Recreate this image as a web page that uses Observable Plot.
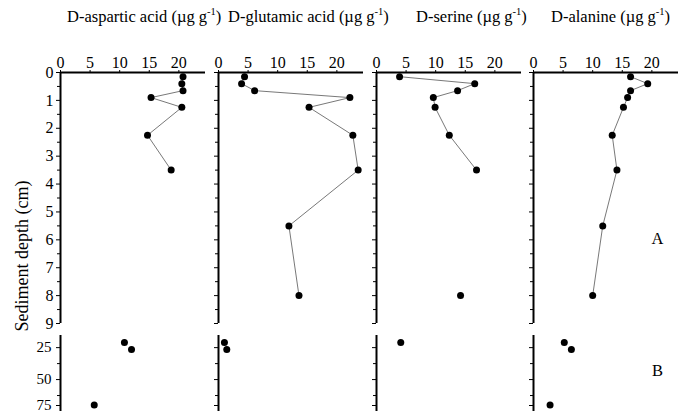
<!DOCTYPE html>
<html><head><meta charset="utf-8">
<script src="https://cdn.jsdelivr.net/npm/d3@7"></script>
<script src="https://cdn.jsdelivr.net/npm/@observablehq/plot@0.6"></script>
<style>
body{margin:0;background:#fff;}
#chart{position:relative;width:678px;height:414px;overflow:hidden;font-family:"Liberation Serif","Times New Roman",serif;color:#000;}
.t{position:absolute;top:9px;font-size:16.5px;line-height:1;white-space:nowrap;}
.t sup{font-size:10.5px;vertical-align:top;position:relative;top:-2px;}
.p{position:absolute;top:0;}
.p svg text{font-family:"Liberation Serif","Times New Roman",serif;}
</style></head>
<body><div id="chart"></div>
<script>
// sampled depths (cm), upper section A and deep section B
const depths = [0.15, 0.4, 0.65, 0.9, 1.25, 2.25, 3.5, 5.5, 8];
const deepDepths = [21, 26.5, 70];
// concentrations (µg g-1)
const aspartic     = [20.7, 20.5, 20.7, 15.3, 20.5, 14.7, 18.7, null, null];
const asparticDeep = [10.8, 12.0, 5.7];
const glutamic     = [4.4, 3.9, 6.1, 22.2, 15.3, 22.7, 23.6, 11.9, 13.6];
const glutamicDeep = [1.0, 1.4, null];
const serine       = [3.9, 16.6, 13.7, 9.6, 9.9, 12.3, 16.9, null, 14.2];
const serineDeep   = [4.1, null, null];
const alanine      = [16.4, 19.3, 16.4, 15.9, 15.2, 13.3, 14.1, 11.7, 10.0];
const alanineDeep  = [5.2, 6.4, 2.8];
const names = ["D-aspartic acid", "D-glutamic acid", "D-serine", "D-alanine"];
const unit = "(\u00b5g g<sup>-1</sup>)";
const xTicks = [0, 5, 10, 15, 20];
const depthTicks = [0, 1, 2, 3, 4, 5, 6, 7, 8, 9];
const depthMinor = [0.5, 1.5, 2.5, 3.5, 4.5, 5.5, 6.5, 7.5, 8.5];
const deepTicks = [25, 50];
const deepEndTick = [75];
const deepMinor = [37.5, 62.5];
const yTitle = "Sediment depth (cm)";
const sectionLabels = ["A", "B"];

const series = [[aspartic, asparticDeep], [glutamic, glutamicDeep], [serine, serineDeep], [alanine, alanineDeep]];
const layout = [
  {left: 0, width: 205, ml: 60},
  {left: 205, width: 158, ml: 13},
  {left: 363, width: 158, ml: 13},
  {left: 520, width: 158, ml: 13}
];
const titleLeft = [67, 228, 416, 551];
const chart = document.getElementById("chart");
const font = '"Liberation Serif", "Times New Roman", serif';

series.forEach(([vals, deep], i) => {
  const L = layout[i];
  const upper = depths.map((d, j) => ({d, v: vals[j]}));
  const lower = deepDepths.map((d, j) => ({d, v: deep[j]})).filter(r => r.v != null);
  const first = i === 0;
  const hide = first ? {} : {fill: "none"};
  const marks = [
    Plot.ruleY([0], {x1: 0, x2: 24.5, strokeWidth: 2}),
    Plot.ruleX([0], {y1: 0, y2: 9, strokeWidth: 2}),
    Plot.ruleX([0], {y1: 15.5, y2: 75, strokeWidth: 2}),
    Plot.axisX(xTicks, {anchor: "top", tickSize: 3, tickPadding: 2, label: null, fontSize: 16, fontFamily: font}),
    Plot.axisY(depthTicks, {anchor: "left", tickSize: 4, tickPadding: 3, label: null, fontSize: 16, fontFamily: font, ...hide}),
    Plot.axisY(depthMinor, {anchor: "left", tickSize: 3, label: null, fill: "none"}),
    Plot.axisY(deepTicks, {anchor: "left", tickSize: 4, tickPadding: 5, label: null, fontSize: 15, fontFamily: font, ...hide}),
    Plot.axisY(deepEndTick, {anchor: "left", tickSize: 4, tickPadding: 5, label: null, fontSize: 15, fontFamily: font, dy: -6, ...hide}),
    Plot.axisY(deepMinor, {anchor: "left", tickSize: 3, label: null, fill: "none"}),
    Plot.line(upper, {x: "v", y: "d", stroke: "#555", strokeWidth: 0.8}),
    Plot.dot(upper, {x: "v", y: "d", r: 3.5, fill: "#000", stroke: "none"}),
    Plot.dot(lower, {x: "v", y: "d", r: 3.5, fill: "#000", stroke: "none"})
  ];
  if (first) {
    marks.push(Plot.text([yTitle], {frameAnchor: "left", dx: -38, dy: 14, rotate: -90, fontSize: 18, fontFamily: font, textAnchor: "middle"}));
  }
  if (i === 3) {
    marks.push(Plot.text([sectionLabels[0]], {frameAnchor: "top-right", dx: -21, dy: 160, fontSize: 16.5, fontFamily: font, textAnchor: "middle"}));
    marks.push(Plot.text([sectionLabels[1]], {frameAnchor: "top-right", dx: -21, dy: 292, fontSize: 16.5, fontFamily: font, textAnchor: "middle"}));
  }
  const svg = Plot.plot({
    width: L.width, height: 414,
    marginLeft: L.ml, marginRight: 0, marginTop: 72, marginBottom: 3,
    style: {fontFamily: font, fontSize: "16px", background: "transparent", overflow: "visible", color: "#000"},
    x: {type: "linear", domain: [0, 24.5], axis: null},
    y: {type: "linear", domain: [0, 9, 15.5, 75], range: [72, 323, 335, 411], axis: null},
    marks
  });
  const wrap = document.createElement("div");
  wrap.className = "p";
  wrap.style.left = L.left + "px";
  wrap.style.width = L.width + "px";
  wrap.appendChild(svg);
  chart.appendChild(wrap);

  const t = document.createElement("div");
  t.className = "t";
  t.style.left = titleLeft[i] + "px";
  t.innerHTML = names[i] + " " + unit;
  chart.appendChild(t);
});
</script>
</body></html>
